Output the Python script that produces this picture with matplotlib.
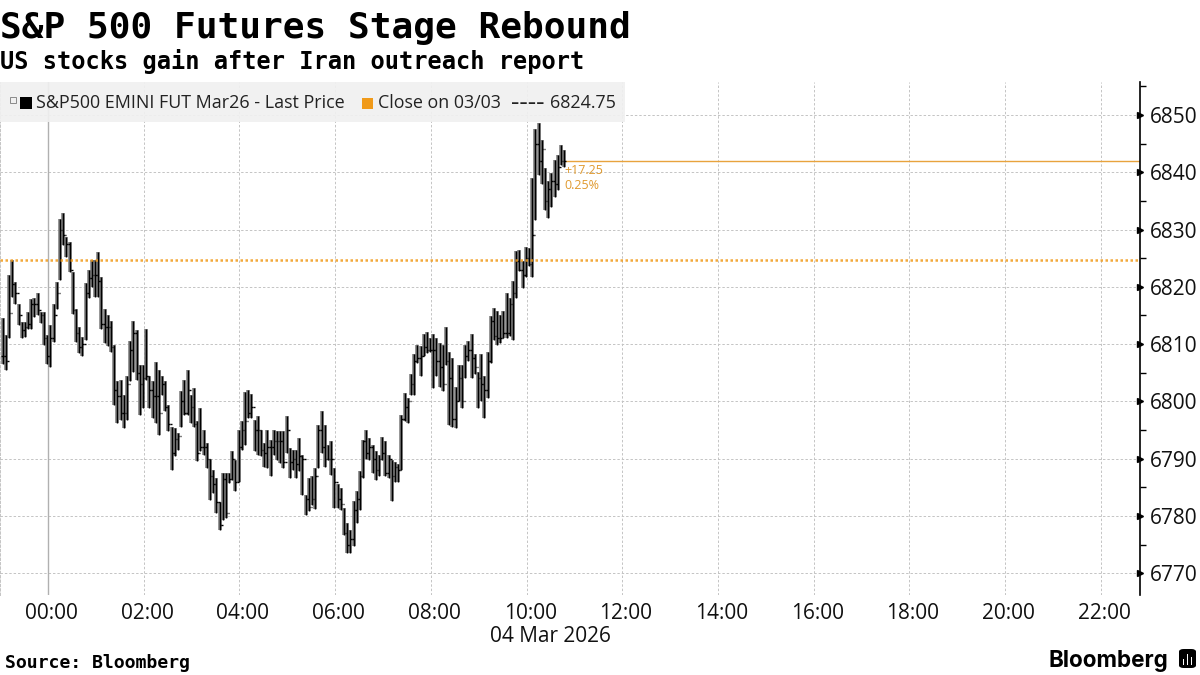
"""
S&P 500 futures intraday bars, Bloomberg style.
"""

import matplotlib
matplotlib.use("Agg")

import matplotlib.pyplot as plt
from matplotlib.patches import FancyBboxPatch, Rectangle
from matplotlib.ticker import FixedLocator, NullFormatter

TITLE = "S&P 500 Futures Stage Rebound"
SUBTITLE = "US stocks gain after Iran outreach report"
SOURCE = "Source: Bloomberg"
SERIES_LABEL = "S&P500 EMINI FUT Mar26 - Last Price"
CLOSE_LABELS = ["Close on 03/03", "----", "6824.75"]
DATE_LABEL = "04 Mar 2026"

BAR_MINUTES = 4
FIRST_BAR = -57
PREV_CLOSE = 6824.75
LAST_PRICE = 6842.0
CHANGE_LABELS = ["+17.25", "0.25%"]

HOUR_TICKS = [0, 120, 240, 360, 480, 600, 720, 840, 960, 1080, 1200, 1320]
HOUR_LABELS = ["00:00", "02:00", "04:00", "06:00", "08:00", "10:00", "12:00",
               "14:00", "16:00", "18:00", "20:00", "22:00"]
PRICE_TICKS = [6770, 6780, 6790, 6800, 6810, 6820, 6830, 6840, 6850]
PRICE_MINOR = [6775, 6785, 6795, 6805, 6815, 6825, 6835, 6845, 6855]

highs = [
    6814.5, 6811.6, 6822, 6824.75, 6820.9, 6817, 6813.9, 6813.9, 6815.6, 6817.8,
    6818, 6819, 6815.6, 6815.6, 6811.6, 6813.3, 6817, 6820.9, 6831.9, 6832.9,
    6828.7, 6827.8, 6822.6, 6816.2, 6813, 6811.3, 6820.7, 6822.9, 6824.6, 6824.6,
    6826, 6821.7, 6816.1, 6815.1, 6814, 6809.9, 6803.5, 6803.8, 6801.2, 6804.4,
    6810.5, 6814, 6812.5, 6806.4, 6806.4, 6812.6, 6804.4, 6803.5, 6806.8, 6805.5,
    6804.4, 6803.5, 6799.4, 6795.6, 6795.4, 6794.5, 6801.8, 6803.8, 6805.4, 6801.2,
    6802.3, 6796.5, 6798.8, 6795, 6792.7, 6790, 6788, 6786.6, 6782.5, 6787.5,
    6787.5, 6787.5, 6791.3, 6789.8, 6795, 6796.5, 6801.7, 6802, 6801.3, 6796.8,
    6797.4, 6795, 6792.7, 6795, 6793.3, 6795, 6794.9, 6794.8, 6794.8, 6797.4,
    6791.8, 6791.5, 6791.5, 6793.6, 6790.7, 6783.7, 6786.6, 6786.9, 6788.3, 6795.9,
    6798.3, 6795.9, 6792.4, 6793.1, 6788.4, 6785.5, 6784.9, 6781.4, 6778.8, 6777.6,
    6782.6, 6784.3, 6787.8, 6793.3, 6795, 6793.6, 6792.4, 6791.3, 6790.7, 6793.8,
    6793, 6790.7, 6789.8, 6789.5, 6789, 6797.7, 6801.5, 6800.6, 6804.7, 6808.2,
    6809.9, 6809.6, 6811.7, 6812.2, 6811, 6811.7, 6811, 6810.2, 6809.9, 6813,
    6808.7, 6807.6, 6802.6, 6806.4, 6806.4, 6809.9, 6810.5, 6811.7, 6808.2, 6805.2,
    6808.2, 6804.4, 6808.7, 6814.9, 6816.3, 6815.7, 6815, 6815.7, 6818.9, 6818,
    6821, 6826.2, 6826.5, 6824.5, 6827, 6826.8, 6839, 6847.6, 6848.6, 6845.7,
    6840.7, 6838.4, 6839.8, 6842.2, 6843, 6844.7, 6843.9,
]
lows = [
    6806.6, 6805.5, 6811, 6818.3, 6817, 6813.3, 6811, 6811.3, 6812.7, 6812.7,
    6814.8, 6815, 6813.7, 6809.8, 6806.6, 6806, 6810.4, 6816.2, 6821.2, 6827.3,
    6825.2, 6822.6, 6815.3, 6810.4, 6808.4, 6808, 6810.8, 6818, 6820, 6818.3,
    6818.3, 6812.7, 6810.2, 6809.6, 6808.7, 6799.4, 6796.2, 6796.8, 6795.4, 6796.8,
    6803.5, 6805.2, 6803.8, 6797.7, 6798.8, 6803.8, 6798.8, 6797.1, 6796.2, 6794.2,
    6801.2, 6798.3, 6794.8, 6788, 6790.4, 6791.6, 6795.6, 6797.7, 6797.7, 6796.2,
    6795.6, 6789.6, 6791.3, 6790.7, 6788.3, 6782.8, 6784, 6780.5, 6777.6, 6779.3,
    6779.6, 6785.7, 6786.3, 6784.3, 6786, 6791.5, 6792.4, 6797.1, 6797.1, 6791.3,
    6790.7, 6790.4, 6788.6, 6788.3, 6786.9, 6790.7, 6789.8, 6789.2, 6788.3, 6791,
    6786.6, 6788, 6786.6, 6787.8, 6783.7, 6780.2, 6780.8, 6781.9, 6781.3, 6788.3,
    6791, 6788.6, 6789.8, 6787.2, 6781.4, 6781.4, 6781.1, 6776.7, 6773.5, 6773.5,
    6774.7, 6778.8, 6781.1, 6786.6, 6790, 6789.8, 6787.5, 6786.3, 6786.9, 6789.8,
    6786.9, 6786.6, 6782.6, 6786, 6786, 6788.1, 6796.5, 6796.2, 6801.2, 6801.2,
    6806.7, 6804.4, 6807.9, 6808.4, 6808.7, 6802.3, 6804.4, 6802.6, 6801.8, 6806.4,
    6795.9, 6795.6, 6795.3, 6800, 6798.8, 6804.1, 6807, 6804.1, 6804.7, 6798.8,
    6800, 6797.1, 6800.6, 6806.7, 6810.8, 6809.9, 6810.2, 6811, 6811, 6811.4,
    6810.8, 6818, 6822.7, 6819.8, 6821.8, 6823.6, 6821.8, 6831.7, 6839.5, 6838,
    6833.4, 6832, 6834, 6835.7, 6836.9, 6841.3, 6841,
]
closes = [
    6808, 6807, 6815.5, 6820.5, 6819, 6815, 6812.5, 6813, 6813.5, 6817,
    6817, 6816, 6815, 6811, 6808, 6811, 6815, 6819, 6830, 6829,
    6827.5, 6823, 6816, 6812, 6809.5, 6810, 6819, 6821.5, 6822, 6822,
    6821, 6813.5, 6813, 6813, 6809.5, 6802, 6801, 6798, 6798, 6803,
    6809, 6812, 6805, 6803, 6804, 6804.5, 6802, 6801, 6801, 6798,
    6803, 6799, 6796, 6791, 6793.5, 6794, 6800, 6798, 6802, 6799,
    6796, 6791, 6792, 6792, 6790, 6787, 6785.5, 6782.5, 6778.5, 6786.5,
    6780.5, 6786.5, 6790, 6786, 6792, 6795, 6796.5, 6798, 6799, 6795,
    6795, 6791.5, 6791, 6792, 6792, 6793, 6793, 6793, 6789.5, 6795,
    6789.5, 6790, 6789, 6790.5, 6790, 6783, 6781.5, 6783, 6787, 6795,
    6792, 6790, 6790, 6790, 6786, 6783, 6782, 6777, 6775, 6776,
    6781, 6783, 6787, 6793, 6791, 6792, 6790, 6788, 6790, 6791,
    6787.5, 6790, 6787, 6788.5, 6788, 6797, 6799, 6800, 6803, 6807,
    6807.5, 6808, 6809.5, 6809, 6809, 6809, 6807, 6806, 6803, 6807,
    6804, 6797, 6800, 6804, 6800, 6808, 6809, 6807.5, 6806, 6804,
    6803, 6802, 6807, 6814, 6811.5, 6811, 6811, 6812, 6812, 6817,
    6819, 6824.5, 6823, 6822, 6825, 6824, 6829, 6845, 6842, 6844,
    6835, 6837, 6838.5, 6838, 6841, 6842, 6842,
]

FIG_W, FIG_H = 1200, 675
ORANGE = "#f09a1a"
GRID = "#c4c4c4"
ICON_BARS = [6, 11, 8]


def fx(x):
    return x / FIG_W


def fy(y):
    return 1 - y / FIG_H


def add_box(fig, left, bottom, width, height, **kwargs):
    fig.add_artist(Rectangle((fx(left), fy(bottom)), fx(width), height / FIG_H,
                             transform=fig.transFigure, **kwargs))


def add_header(fig):
    fig.text(fx(0), fy(38), TITLE, fontsize=26, fontweight="bold", family="DejaVu Sans Mono", color="black")
    fig.text(fx(0), fy(69), SUBTITLE, fontsize=17, fontweight="bold", family="DejaVu Sans Mono", color="black")


def add_legend_band(fig):
    add_box(fig, 0, 122, 625, 40, facecolor="#f0f0f0", edgecolor="none", alpha=0.92, zorder=1)
    add_box(fig, 10, 103, 6, 6, facecolor="none", edgecolor="#8a8a8a", lw=0.7, zorder=2)
    add_box(fig, 13, 112, 0.5, 9, facecolor="#8a8a8a", edgecolor="none", zorder=2)
    add_box(fig, 20, 109, 12, 12, facecolor="black", edgecolor="none", zorder=2)
    add_box(fig, 362, 109, 11, 11, facecolor=ORANGE, edgecolor="none", zorder=2)
    text_style = dict(fontsize=12.9, family="Open Sans", color="#222222", va="center")
    fig.text(fx(36), fy(103), SERIES_LABEL, **text_style)
    fig.text(fx(378), fy(103), CLOSE_LABELS[0], **text_style)
    fig.text(fx(528), fy(103), CLOSE_LABELS[1], ha="center", fontsize=19, family="Open Sans",
             color="#222222", va="center")
    fig.text(fx(616), fy(103), CLOSE_LABELS[2], ha="right", **text_style)


def add_footer(fig):
    fig.text(fx(5), fy(668), SOURCE, fontsize=13.1, fontweight="bold", family="DejaVu Sans Mono", color="black")
    fig.text(fx(1048), fy(667), "Bloomberg", fontsize=16.2, fontweight="bold", family="Inter", color="black")
    fig.add_artist(FancyBboxPatch((fx(1179), fy(668)), fx(17), 19 / FIG_H, transform=fig.transFigure,
                                  boxstyle="round,pad=0,rounding_size=0.004", facecolor="black", edgecolor="none"))
    for i, height in enumerate(ICON_BARS):
        add_box(fig, 1182.5 + 4 * i, 665, 1.8, height, facecolor="white", edgecolor="none", zorder=3)


def main():
    plt.rcParams["font.family"] = ["Open Sans", "DejaVu Sans"]
    times = [FIRST_BAR + BAR_MINUTES * i for i in range(len(highs))]
    opens = [closes[0]] + closes[:-1]

    fig = plt.figure(figsize=(FIG_W / 100, FIG_H / 100), dpi=100, facecolor="white")
    ax = fig.add_axes([0, fy(595), fx(1140), (595 - 82) / FIG_H])
    ax.set_xlim(-60.2, 1369)
    ax.set_ylim(6766.2, 6855.76)

    ax.xaxis.set_major_locator(FixedLocator(HOUR_TICKS))
    ax.yaxis.set_major_locator(FixedLocator(PRICE_TICKS))
    ax.yaxis.set_minor_locator(FixedLocator(PRICE_MINOR))
    ax.xaxis.set_major_formatter(NullFormatter())
    ax.yaxis.tick_right()
    ax.grid(True, which="major", color=GRID, linestyle=(0, (2.5, 2)), linewidth=0.7)
    ax.set_axisbelow(True)
    ax.axvline(0, color="#b0b0b0", linewidth=1.0, zorder=1)

    for side in ["top", "bottom"]:
        ax.spines[side].set_visible(False)
    ax.spines["left"].set_color(GRID)
    ax.spines["left"].set_linestyle((0, (2.5, 2)))
    ax.spines["left"].set_linewidth(0.7)
    ax.spines["right"].set_color("black")
    ax.spines["right"].set_linewidth(1.2)

    ax.tick_params(axis="x", length=0)
    ax.tick_params(axis="y", which="major", length=0, pad=7, labelsize=15, labelcolor="#111111")
    ax.tick_params(axis="y", which="minor", length=4, width=1.0, color="black", direction="out")
    ax.plot([1] * len(PRICE_TICKS), PRICE_TICKS, linestyle="none", marker=">", markersize=5, color="black",
            transform=ax.get_yaxis_transform(), clip_on=False, zorder=5)

    for t, label in zip(HOUR_TICKS, HOUR_LABELS):
        ax.annotate(label, (t, 0), xycoords=ax.get_xaxis_transform(), xytext=(2.5, -6), textcoords="offset points",
                    ha="center", va="top", fontsize=15, color="#111111")
    fig.text(fx(550), fy(636), DATE_LABEL, ha="center", va="center", fontsize=15, color="#111111")

    ax.hlines(LAST_PRICE, times[-1], ax.get_xlim()[1], color="#e8a33d", linewidth=1.0, zorder=2)

    ax.vlines(times, lows, highs, color="#808080", linewidth=2.6, zorder=2.5)
    ax.vlines(times, lows, highs, color="black", linewidth=1.05, zorder=3)
    ax.hlines(closes, times, [t + 1.8 for t in times], color="black", linewidth=1.0, zorder=3)
    ax.hlines(opens, [t - 1.8 for t in times], times, color="black", linewidth=1.0, zorder=3)

    ax.axhline(PREV_CLOSE, color=ORANGE, linestyle=(0, (1, 1)), linewidth=1.8, alpha=0.85, zorder=4)

    ax.annotate(CHANGE_LABELS[0], (times[-1], LAST_PRICE), xytext=(0, -7), textcoords="offset points",
                ha="left", va="center", fontsize=9, color="#e09a2f")
    ax.annotate(CHANGE_LABELS[1], (times[-1], LAST_PRICE), xytext=(0, -18), textcoords="offset points",
                ha="left", va="center", fontsize=9, color="#e09a2f")

    add_header(fig)
    add_legend_band(fig)
    add_footer(fig)

    fig.savefig("out.png", dpi=100)
    plt.close(fig)


if __name__ == "__main__":
    main()
